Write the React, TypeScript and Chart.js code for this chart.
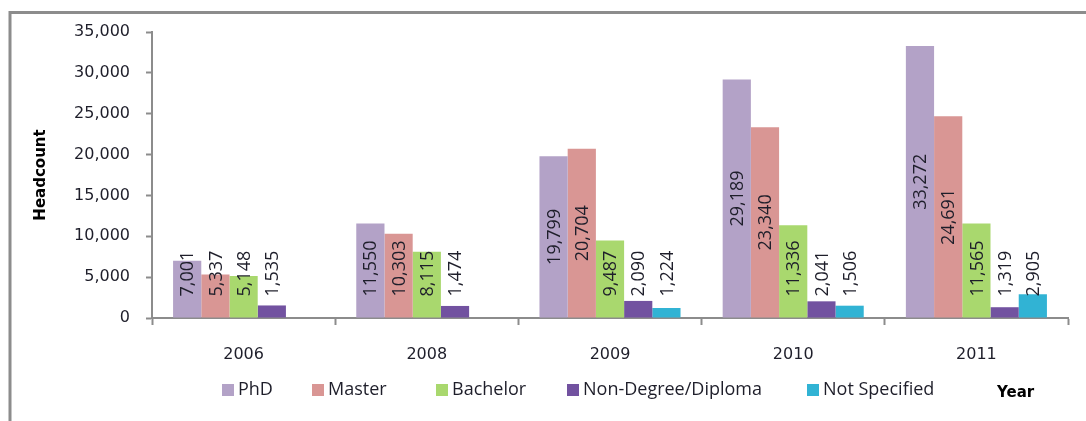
import React, { useEffect, useRef } from "react";
import { Chart, registerables } from "chart.js";

Chart.register(...registerables);

const years = ["2006", "2008", "2009", "2010", "2011"];
const seriesNames = ["PhD", "Master", "Bachelor", "Non-Degree/Diploma", "Not Specified"];
const phd = [7001, 11550, 19799, 29189, 33272];
const master = [5337, 10303, 20704, 23340, 24691];
const bachelor = [5148, 8115, 9487, 11336, 11565];
const nonDegree = [1535, 1474, 2090, 2041, 1319];
const notSpecified = [null, null, 1224, 1506, 2905];
const seriesColors = ["#b3a2c7", "#d99694", "#a9d86e", "#7252a0", "#31b3d4"];
const yMin = 0;
const yMax = 35000;
const yStep = 5000;
const yTitle = "Headcount";
const xTitle = "Year";

const seriesValues = [phd, master, bachelor, nonDegree, notSpecified];

const fmt = (v: number) => Number(v).toLocaleString("en-US");

const TEXT = "#1e1e2a";
const AXIS = "#8c8c8c";

const decorPlugin = {
  id: "decor",
  afterDatasetsDraw(chart: any) {
    const ctx = chart.ctx;
    ctx.save();
    ctx.font = '18px "Open Sans"';
    ctx.fillStyle = TEXT;
    ctx.textAlign = "center";
    ctx.textBaseline = "middle";
    chart.data.datasets.forEach((ds: any, di: number) => {
      const meta = chart.getDatasetMeta(di);
      meta.data.forEach((bar: any, i: number) => {
        const v = ds.data[i];
        if (v == null) return;
        const p = bar.getProps(["x", "y", "base"], true);
        const txt = fmt(v);
        const w = ctx.measureText(txt).width;
        let c = (p.y + p.base) / 2;
        c = Math.min(c, p.base - 21 - w / 2);
        ctx.save();
        ctx.translate(p.x + 1, c);
        ctx.rotate(-Math.PI / 2);
        ctx.fillText(txt, 0, 0);
        ctx.restore();
      });
    });
    ctx.restore();
  },
  afterDraw(chart: any) {
    const ctx = chart.ctx;
    ctx.save();
    // outer frame (top and left edges visible)
    ctx.strokeStyle = AXIS;
    ctx.lineWidth = 3;
    ctx.beginPath();
    ctx.moveTo(10, 430);
    ctx.lineTo(10, 12.5);
    ctx.lineTo(1100, 12.5);
    ctx.stroke();

    // y title
    ctx.fillStyle = "#000";
    ctx.font = 'bold 15px "DejaVu Sans"';
    ctx.textAlign = "center";
    ctx.textBaseline = "middle";
    ctx.save();
    ctx.translate(41, 175);
    ctx.rotate(-Math.PI / 2);
    ctx.fillText(yTitle, 0, 0);
    ctx.restore();

    // x title
    ctx.textAlign = "left";
    ctx.fillText(xTitle, 997, 393);

    // legend
    const sx = [222, 312, 436, 567, 807];
    ctx.font = '18px "Open Sans"';
    ctx.fillStyle = TEXT;
    chart.data.datasets.forEach((ds: any, i: number) => {
      ctx.fillStyle = ds.backgroundColor;
      ctx.fillRect(sx[i], 384, 12, 12);
      ctx.fillStyle = TEXT;
      ctx.fillText(ds.label, sx[i] + 16, 390);
    });
    ctx.restore();
  },
};

export default function App() {
  const ref = useRef<HTMLCanvasElement | null>(null);
  useEffect(() => {
    if (!ref.current) return;
    const chart = new Chart(ref.current, {
      type: "bar",
      data: {
        labels: years,
        datasets: seriesNames.map((n, i) => ({
          label: n,
          data: seriesValues[i] as any,
          backgroundColor: seriesColors[i],
          borderWidth: 0,
          categoryPercentage: 0.77,
          barPercentage: 1,
        })),
      },
      options: {
        responsive: false,
        animation: false,
        layout: { padding: { top: 32, right: 18, left: 0, bottom: 0 } },
        plugins: { legend: { display: false }, tooltip: { enabled: false } },
        scales: {
          x: {
            grid: {
              display: true,
              drawOnChartArea: false,
              drawTicks: true,
              tickLength: 7,
              tickWidth: 2,
              tickColor: AXIS,
              offset: true,
            },
            border: { display: true, color: AXIS, width: 2 },
            ticks: { font: { family: "DejaVu Sans", size: 16 }, color: TEXT, padding: 20 },
            afterFit: (s: any) => {
              s.height = 103;
            },
          },
          y: {
            min: yMin,
            max: yMax,
            ticks: {
              stepSize: yStep,
              callback: (v: any) => fmt(v),
              font: { family: "DejaVu Sans", size: 16 },
              color: TEXT,
              padding: 16,
            },
            grid: {
              drawOnChartArea: false,
              drawTicks: true,
              tickLength: 6,
              tickWidth: 2,
              tickColor: AXIS,
            },
            border: { display: true, color: AXIS, width: 2 },
            afterFit: (s: any) => {
              s.width = 152;
            },
          },
        },
      },
      plugins: [decorPlugin],
    });
    return () => chart.destroy();
  }, []);
  return (
    <div style={{ position: "fixed", left: 0, top: 0, width: 1086, height: 421, background: "#fff" }}>
      <canvas ref={ref} width={1086} height={421} style={{ display: "block", width: 1086, height: 421 }} />
    </div>
  );
}
